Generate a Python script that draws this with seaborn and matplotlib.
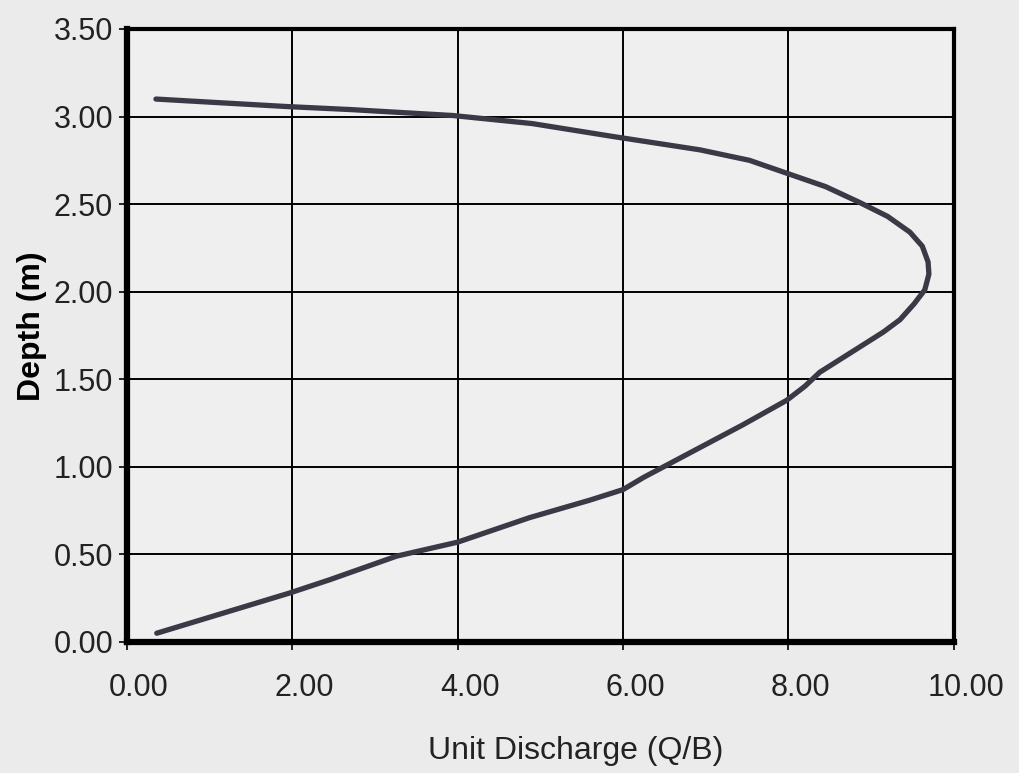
import pandas as pd
import matplotlib
matplotlib.use("Agg")
import matplotlib.pyplot as plt
import matplotlib.transforms as mtransforms
import seaborn as sns

# velocity profile (unit discharge vs depth)
descarga = [0.36, 1.97, 2.45, 3.26, 4.00, 4.87, 5.60, 6.00, 6.25, 6.57, 6.93,
            7.45, 7.98, 8.20, 8.38, 8.95, 9.15, 9.35, 9.52, 9.65, 9.70, 9.69,
            9.62, 9.47, 9.20, 8.86, 8.45, 8.02, 7.53, 6.93, 5.88, 4.90, 3.94,
            2.70, 1.94, 0.90, 0.35]
profundidade = [0.05, 0.28, 0.355, 0.49, 0.57, 0.71, 0.81, 0.87, 0.94, 1.02,
                1.11, 1.24, 1.38, 1.46, 1.54, 1.71, 1.77, 1.84, 1.93, 2.01,
                2.10, 2.17, 2.26, 2.34, 2.43, 2.51, 2.60, 2.67, 2.75, 2.81,
                2.886, 2.96, 3.006, 3.04, 3.057, 3.085, 3.10]

xticks = [0, 2, 4, 6, 8, 10]
yticks = [0, 0.5, 1.0, 1.5, 2.0, 2.5, 3.0, 3.5]

df = pd.DataFrame({'Q': descarga, 'D': profundidade})

sns.set_style("white")
plt.rcParams['font.family'] = ['Liberation Sans', 'DejaVu Sans']

fig = plt.figure(figsize=(10.2, 7.73), dpi=100)
fig.patch.set_facecolor('#ebebeb')
ax = fig.add_axes([0.1245, 0.1695, 0.8105, 0.793])
ax.set_facecolor('#efefef')

sns.lineplot(data=df, x='Q', y='D', sort=False, estimator=None,
             color='#3a3a46', linewidth=3.8, ax=ax)

ax.set_xlim(0, 10)
ax.set_ylim(0, 3.5)
ax.set_xticks(xticks)
ax.set_yticks(yticks)
ax.set_xticklabels([f'{v:.2f}' for v in xticks], fontsize=22, color='#222222')
ax.set_yticklabels([f'{v:.2f}' for v in yticks], fontsize=22, color='#222222')

ax.grid(True, color='black', linewidth=1.4)
ax.set_axisbelow(True)
ax.tick_params(axis='both', direction='out', length=6, width=1.2,
               color='black', pad=4, bottom=True, left=True)
ax.tick_params(axis='x', pad=16)

offset = mtransforms.ScaledTranslation(0.12, 0, fig.dpi_scale_trans)
for lbl in ax.get_xticklabels():
    lbl.set_transform(lbl.get_transform() + offset)

for lado, w in [('left', 4.5), ('bottom', 4.5), ('top', 3), ('right', 3)]:
    ax.spines[lado].set_visible(True)
    ax.spines[lado].set_color('black')
    ax.spines[lado].set_linewidth(w)

ax.set_xlabel('Unit Discharge (Q/B)', fontsize=23, color='#222222')
ax.set_ylabel('Depth (m)', fontsize=23, fontweight='bold', color='black')
ax.xaxis.set_label_coords(0.543, -0.153)
ax.yaxis.set_label_coords(-0.097, 0.515)

plt.savefig('out.png', dpi=100, facecolor=fig.get_facecolor())
